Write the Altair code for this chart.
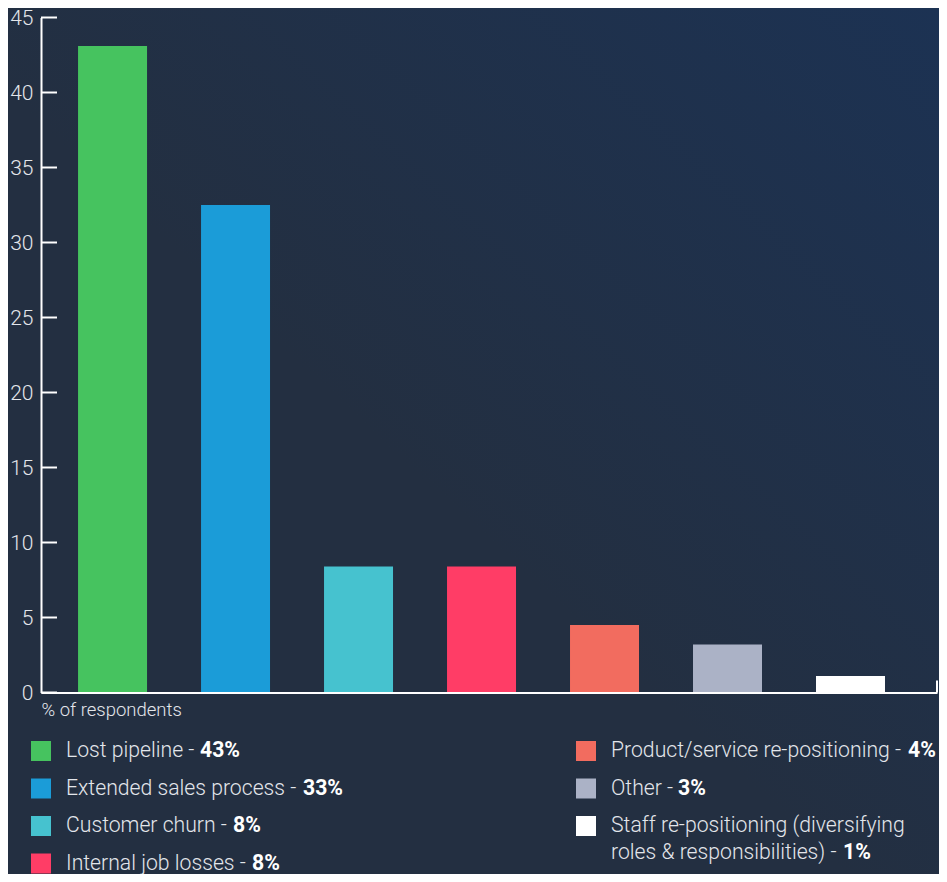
import altair as alt
import pandas as pd

# ---------------- data ----------------
categories = [
    "Lost pipeline",
    "Extended sales process",
    "Customer churn",
    "Internal job losses",
    "Product/service re-positioning",
    "Other",
    "Staff re-positioning (diversifying roles & responsibilities)",
]
values = [43.1, 32.5, 8.4, 8.4, 4.5, 3.2, 1.1]
value_labels = ["43%", "33%", "8%", "8%", "4%", "3%", "1%"]
colors = ["#46c35f", "#1b9cd8", "#46c2cf", "#ff3d66", "#f26c5f", "#abb2c6", "#ffffff"]
legend_lines = [
    ["Lost pipeline - "],
    ["Extended sales process - "],
    ["Customer churn - "],
    ["Internal job losses - "],
    ["Product/service re-positioning - "],
    ["Other - "],
    ["Staff re-positioning (diversifying", "roles & responsibilities) - "],
]
legend_col = [0, 0, 0, 0, 1, 1, 1]
legend_row = [0, 1, 2, 3, 0, 1, 2]
y_ticks = [0, 5, 10, 15, 20, 25, 30, 35, 40, 45]
axis_title = "% of respondents"

# ---------------- layout / style ----------------
W, H = 896, 675
PAD_L, PAD_T, PAD_R = 33, 9.5, 2
PAD_B = 866 - PAD_T - H
FONT = "Roboto"
TXT = "#e3e6eb"
BG = "#232f41"
COL_STEP = 545      # distance between the two legend columns
TEXT_X0 = 25        # legend text start relative to square centre
ROW_Y0 = 733.5      # first legend row (relative to plot top)
ROW_STEP = 37.5
LINE_STEP = 27
LEG_FS = 21.2
BOLD_DX = [134, 237, 167, 186, 297, 67, 232]

bars_df = pd.DataFrame({"cat": categories, "val": values})
ticks_df = pd.DataFrame({"v": y_ticks})
sq_df = pd.DataFrame({"cat": categories, "col": legend_col, "row": legend_row})
txt_rows = []
bold_rows = []
for i, cat in enumerate(categories):
    for j, line in enumerate(legend_lines[i]):
        txt_rows.append({"cat": cat, "text": line, "col": legend_col[i],
                         "row": legend_row[i], "line": j})
    bold_rows.append({"cat": cat, "text": value_labels[i], "col": legend_col[i],
                      "row": legend_row[i], "line": len(legend_lines[i]) - 1,
                      "bdx": BOLD_DX[i]})
txt_df = pd.DataFrame(txt_rows)
bold_df = pd.DataFrame(bold_rows)

color_scale = alt.Scale(domain=categories, range=colors)

bg = alt.Chart(pd.DataFrame({"a": [0]})).mark_rect(
    color=alt.LinearGradient(
        gradient="linear",
        stops=[alt.GradientStop(color=BG, offset=0),
               alt.GradientStop(color=BG, offset=0.45),
               alt.GradientStop(color="#1c3253", offset=1)],
        x1=0, x2=1, y1=1, y2=0,
    )
).encode(
    x=alt.value(-PAD_L), x2=alt.value(W + PAD_R),
    y=alt.value(-PAD_T), y2=alt.value(H + PAD_B),
)

bars = alt.Chart(bars_df).mark_bar().encode(
    x=alt.X("cat:N", sort=categories,
            scale=alt.Scale(domain=categories, paddingInner=0.439,
                            paddingOuter=0.362, align=0.416),
            axis=alt.Axis(labels=False, ticks=False, domain=True, zindex=2,
                          domainColor="#ffffff", domainWidth=2,
                          title=axis_title, titleFont=FONT, titleFontSize=18.5,
                          titleFontWeight=300, titleColor=TXT,
                          titleAnchor="start", titleAlign="left",
                          titleBaseline="alphabetic", titleX=0, titleY=23)),
    y=alt.Y("val:Q",
            scale=alt.Scale(domain=[0, 45], nice=False, zero=True),
            axis=alt.Axis(values=y_ticks, ticks=False, grid=False, zindex=2,
                          domainColor="#ffffff", domainWidth=2,
                          labelFont=FONT, labelFontSize=21, labelFontWeight=300,
                          labelColor=TXT, labelPadding=8, labelOffset=1,
                          title=None)),
    color=alt.Color("cat:N", scale=color_scale, legend=None),
)

yticks = alt.Chart(ticks_df).mark_rule(color="#ffffff", strokeWidth=2).encode(
    y=alt.Y("v:Q", scale=alt.Scale(domain=[0, 45], nice=False), axis=None),
    x=alt.value(0), x2=alt.value(16),
)

end_tick = alt.Chart(pd.DataFrame({"a": [0]})).mark_rule(
    color="#ffffff", strokeWidth=2
).encode(x=alt.value(W), y=alt.value(H - 12), y2=alt.value(H))

squares = alt.Chart(sq_df).transform_calculate(
    px=f"datum.col * {COL_STEP}",
    py=f"{ROW_Y0} + datum.row * {ROW_STEP}",
).mark_square(size=400, opacity=1).encode(
    x=alt.X("px:Q", scale=None, axis=None),
    y=alt.Y("py:Q", scale=None, axis=None),
    color=alt.Color("cat:N", scale=color_scale, legend=None),
)

texts = alt.Chart(txt_df).transform_calculate(
    px=f"datum.col * {COL_STEP} + {TEXT_X0}",
    py=f"{ROW_Y0} + datum.row * {ROW_STEP} + datum.line * {LINE_STEP}",
).mark_text(align="left", baseline="middle", font=FONT, fontSize=LEG_FS,
            fontWeight=300, color=TXT).encode(
    x=alt.X("px:Q", scale=None, axis=None),
    y=alt.Y("py:Q", scale=None, axis=None),
    text="text:N",
)

bold = alt.Chart(bold_df).transform_calculate(
    px=f"datum.col * {COL_STEP} + {TEXT_X0} + datum.bdx",
    py=f"{ROW_Y0} + datum.row * {ROW_STEP} + datum.line * {LINE_STEP}",
).mark_text(align="left", baseline="middle", font=FONT, fontSize=LEG_FS,
            fontWeight="bold", color="#ffffff").encode(
    x=alt.X("px:Q", scale=None, axis=None),
    y=alt.Y("py:Q", scale=None, axis=None),
    text="text:N",
)

chart = alt.layer(bg, bars, yticks, end_tick, squares, texts, bold).resolve_scale(
    x="independent", y="independent"
).properties(
    width=W, height=H,
    padding={"left": PAD_L, "top": PAD_T, "right": PAD_R, "bottom": PAD_B},
    autosize=alt.AutoSizeParams(type="none"),
).configure(background=BG).configure_view(stroke=None)

chart.save("out.html", embed_options={"renderer": "svg", "actions": False})
